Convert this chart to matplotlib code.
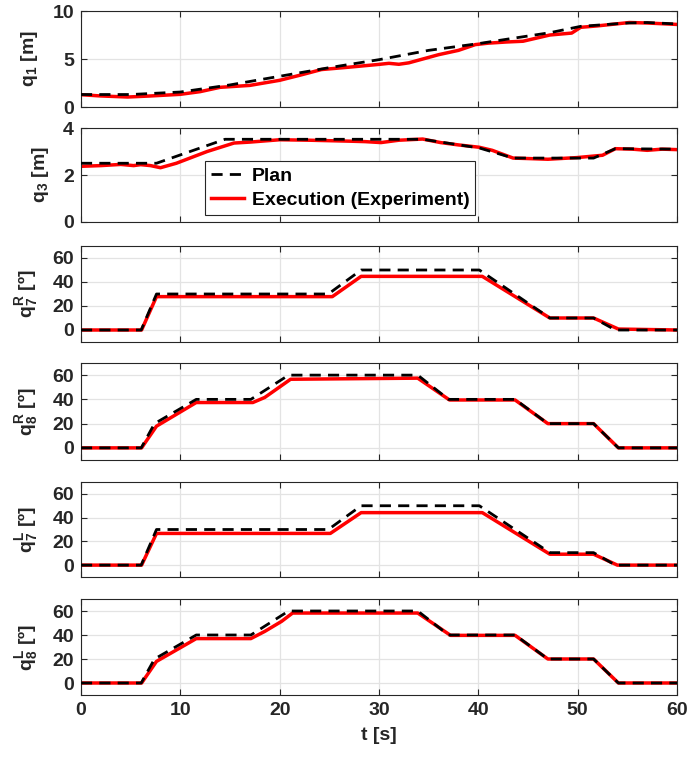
import numpy as np
import matplotlib
matplotlib.use("Agg")
import matplotlib.pyplot as plt

plt.rcParams['font.family'] = ['Liberation Sans', 'DejaVu Sans']
plt.rcParams['font.weight'] = 'bold'
plt.rcParams['mathtext.fontset'] = 'custom'
plt.rcParams['mathtext.rm'] = 'Liberation Sans:bold'
plt.rcParams['mathtext.bf'] = 'Liberation Sans:bold'
plt.rcParams['mathtext.it'] = 'Liberation Sans:bold'
plt.rcParams['mathtext.default'] = 'bf'

# ---- data ----
# q1 [m]
t_q1_plan = [0, 5, 10, 15, 20, 25, 30, 35, 40, 43, 47.2, 50.3, 55, 57, 60]
q1_plan = [1.3, 1.3, 1.56, 2.3, 3.2, 4.1, 4.93, 5.9, 6.6, 7.08, 7.74, 8.4, 8.75, 8.8, 8.65]
t_q1_exec = [0, 2, 4.7, 7, 10, 12, 14, 17, 20, 22, 24.2, 27, 30, 31, 32, 33, 36, 38,
             39.7, 41, 42.8, 44.5, 47.2, 49.4, 50.3, 52, 55.2, 57, 60]
q1_exec = [1.28, 1.15, 1.04, 1.15, 1.32, 1.6, 2.05, 2.25, 2.78, 3.3, 3.9, 4.15, 4.44, 4.55,
           4.45, 4.6, 5.45, 5.9, 6.5, 6.65, 6.77, 6.85, 7.5, 7.7, 8.3, 8.45, 8.8, 8.75, 8.6]

# q3 [m]
t_q3_plan = [0, 7.6, 14.5, 34.4, 37, 40.1, 43.5, 51.6, 53.8, 60]
q3_plan = [2.5, 2.5, 3.52, 3.52, 3.35, 3.15, 2.72, 2.72, 3.12, 3.1]
t_q3_exec = [0, 2, 4, 5.3, 6, 7, 8, 9.6, 12.7, 15.4, 17, 20, 23, 25, 27, 28.6, 30.2, 32,
             34.4, 36.2, 38, 40.1, 41.4, 43.5, 45, 47, 49.9, 52.5, 53.8, 55.5, 57, 58.5, 60]
q3_exec = [2.37, 2.4, 2.45, 2.4, 2.44, 2.4, 2.31, 2.5, 3.0, 3.36, 3.4, 3.5, 3.48, 3.46,
           3.44, 3.42, 3.38, 3.48, 3.53, 3.38, 3.28, 3.18, 3.05, 2.72, 2.7, 2.67, 2.74,
           2.84, 3.12, 3.1, 3.05, 3.1, 3.08]

# q7 right [deg]
t_q7r_plan = [0, 6.06, 7.6, 24.9, 28.2, 40.1, 47.2, 51.6, 53.8, 60]
q7r_plan = [0, 0, 30, 30, 50, 50, 10, 10, 0, 0]
t_q7r_exec = [0, 6.1, 7.6, 25.3, 28.2, 40.4, 47.2, 51.6, 54.1, 60]
q7r_exec = [0, 0, 27.8, 27.8, 44.7, 44.7, 10, 10, 0.8, 0]

# q8 right [deg]
t_q8r_plan = [0, 6.06, 7.4, 11.6, 17.1, 20.9, 33.9, 37.0, 43.7, 47.0, 51.6, 54.1, 60]
q8r_plan = [0, 0, 20, 40, 40, 60, 60, 40, 40, 20, 20, 0, 0]
t_q8r_exec = [0, 6.1, 7.6, 11.6, 17.3, 18.5, 21.1, 33.9, 37.1, 43.7, 47.0, 51.6, 54.1, 60]
q8r_exec = [0, 0, 17.9, 37.4, 37.4, 41.6, 56.6, 57.5, 39.5, 39.5, 20, 20, 0, 0]

# q7 left [deg]
t_q7l_plan = [0, 6.06, 7.6, 24.9, 28.2, 40.1, 47.2, 51.6, 53.8, 60]
q7l_plan = [0, 0, 30, 30, 50, 50, 10.5, 10.5, 0, 0]
t_q7l_exec = [0, 6.1, 7.6, 25.1, 28.2, 40.4, 47.2, 51.6, 54.0, 60]
q7l_exec = [0, 0, 26.7, 26.7, 44.2, 44.2, 9.2, 9.2, 0, 0]

# q8 left [deg]
t_q8l_plan = [0, 6.06, 7.4, 11.6, 17.1, 20.9, 33.9, 37.0, 43.7, 47.0, 51.6, 54.1, 60]
q8l_plan = [0, 0, 20, 40, 40, 60, 60, 40, 40, 20, 20, 0, 0]
t_q8l_exec = [0, 6.1, 7.6, 11.6, 17.1, 18.5, 20.2, 21.3, 33.9, 37.2, 43.7, 47.0, 51.6, 54.1, 60]
q8l_exec = [0, 0, 18, 37, 37, 43, 51.4, 58.3, 58.3, 39.7, 39.7, 20, 20, 0, 0]

ylabels = ['q$_1$ [m]', 'q$_3$ [m]', 'q$_7^R$ [º]', 'q$_8^R$ [º]', 'q$_7^L$ [º]', 'q$_8^L$ [º]']
xticks = [0, 10, 20, 30, 40, 50, 60]

panels = [
    (t_q1_plan, q1_plan, t_q1_exec, q1_exec, (0, 10), [0, 5, 10]),
    (t_q3_plan, q3_plan, t_q3_exec, q3_exec, (0, 4), [0, 2, 4]),
    (t_q7r_plan, q7r_plan, t_q7r_exec, q7r_exec, (-10, 70), [0, 20, 40, 60]),
    (t_q8r_plan, q8r_plan, t_q8r_exec, q8r_exec, (-10, 70), [0, 20, 40, 60]),
    (t_q7l_plan, q7l_plan, t_q7l_exec, q7l_exec, (-10, 70), [0, 20, 40, 60]),
    (t_q8l_plan, q8l_plan, t_q8l_exec, q8l_exec, (-10, 70), [0, 20, 40, 60]),
]

# panel pixel extents (top, bottom) in the 689x760 figure
tops = [11, 128, 246, 363, 482, 599]
bottoms = [107, 222, 342, 460, 577, 695]
W, H = 689, 760
left, right = 81, 677
fs = 14

fig = plt.figure(figsize=(W / 100, H / 100), dpi=100)
dark = '#262626'

for i, (tp, yp, te, ye, ylim, yt) in enumerate(panels):
    ax = fig.add_axes([left / W, 1 - bottoms[i] / H, (right - left) / W, (bottoms[i] - tops[i]) / H])
    lp, = ax.plot(tp, yp, color='black', lw=2.0, ls=(0, (4, 2.6)), label='Plan', zorder=3)
    le, = ax.plot(te, ye, color='red', lw=2.5, label='Execution (Experiment)', zorder=2)
    ax.set_xlim(0, 60)
    ax.set_ylim(*ylim)
    ax.set_xticks(xticks)
    ax.set_yticks(yt)
    ax.grid(True, color='#e3e3e3', lw=0.9)
    ax.set_axisbelow(True)
    ax.tick_params(direction='in', top=True, right=True, length=4, width=0.8,
                   colors=dark, labelsize=fs, pad=5)
    for s in ax.spines.values():
        s.set_color(dark)
        s.set_linewidth(0.8)
    ax.set_ylabel(ylabels[i], fontsize=fs, fontweight='bold', color=dark, labelpad=9)
    if i < 5:
        ax.set_xticklabels([])
    else:
        ax.set_xlabel('t [s]', fontsize=fs, fontweight='bold', color=dark, labelpad=6)
    if i == 1:
        leg = ax.legend(handles=[lp, le], loc='lower left', bbox_to_anchor=(0.208, 0.074),
                        fontsize=fs, frameon=True, fancybox=False, framealpha=1,
                        edgecolor=dark, handlelength=1.7, handletextpad=0.4,
                        borderpad=0.3, labelspacing=0.35, borderaxespad=0)
        leg.get_frame().set_linewidth(0.8)
        leg.set_zorder(5)

fig.savefig('out.png', dpi=100)
